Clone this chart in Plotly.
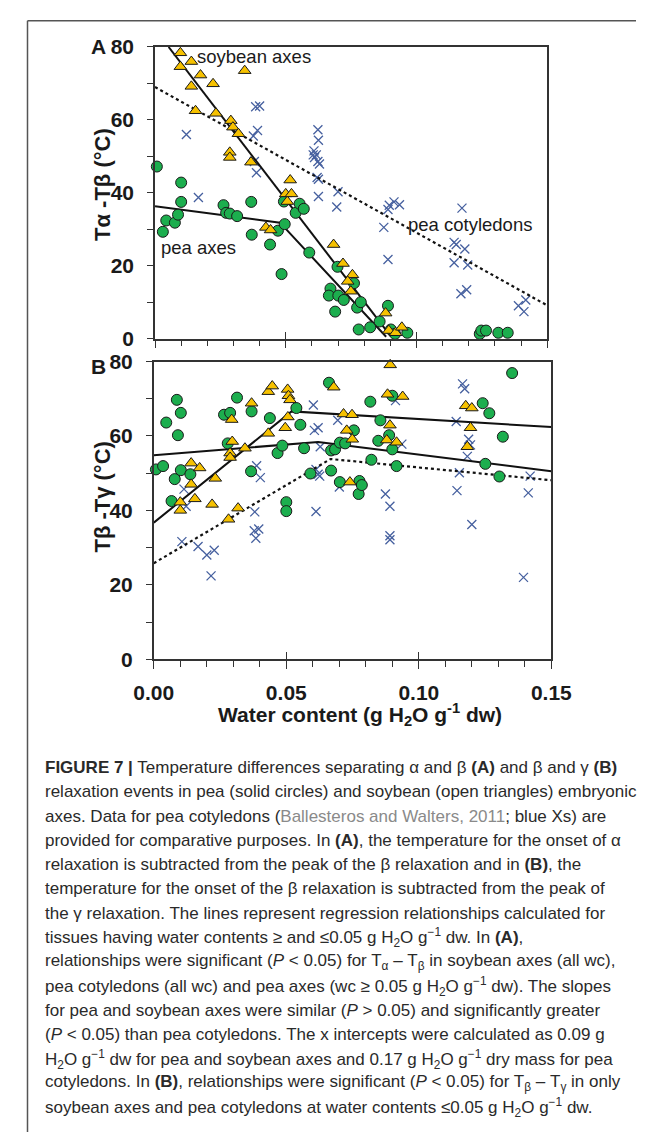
import plotly.graph_objects as go

W, H = 657, 1143

# ---------------- Panel A : T_alpha - T_beta ----------------
a_pea_x = [0.0007, 0.0030, 0.0043, 0.0076, 0.0088, 0.0100, 0.0100, 0.0262, 0.0272, 0.0286, 0.0314,
           0.0368, 0.0370, 0.0440, 0.0470, 0.0484, 0.0496, 0.0493, 0.0538, 0.0553, 0.0569, 0.0590,
           0.0671, 0.0665, 0.0701, 0.0722, 0.0689, 0.0698, 0.0761, 0.0773, 0.0779, 0.0787, 0.0823,
           0.0859, 0.0891, 0.0902, 0.0918, 0.0965, 0.1242, 0.1248, 0.1266, 0.1313, 0.1349]
a_pea_y = [47.2, 29.3, 32.4, 31.8, 34.0, 42.8, 37.5, 36.6, 34.5, 34.3, 33.6,
           37.5, 28.5, 25.8, 29.6, 17.7, 31.4, 37.6, 34.5, 37.0, 35.6, 23.6,
           13.7, 11.8, 11.8, 10.6, 7.4, 19.7, 15.2, 8.5, 2.5, 10.0, 3.1,
           4.7, 9.0, 2.5, 1.3, 1.6, 1.3, 2.2, 2.2, 1.6, 1.6]

a_soy_x = [0.0097, 0.0097, 0.0139, 0.0139, 0.0174, 0.0155, 0.0222, 0.0233, 0.0343, 0.0290, 0.0298,
           0.0319, 0.0286, 0.0286, 0.0367, 0.0500, 0.0506, 0.0517, 0.0522, 0.0424, 0.0442, 0.0683,
           0.0719, 0.0755, 0.0737, 0.0749, 0.0882, 0.0894, 0.0920, 0.0944]
a_soy_y = [78.4, 74.6, 76.0, 69.2, 72.3, 62.5, 69.9, 61.8, 73.5, 59.8, 58.0,
           56.2, 51.1, 49.7, 48.4, 39.7, 37.6, 43.5, 39.7, 30.5, 29.8, 25.8,
           20.6, 17.5, 15.7, 13.0, 7.0, 2.2, 1.6, 3.1]

a_cot_x = [0.0120, 0.0166, 0.0385, 0.0400, 0.0392, 0.0376, 0.0380, 0.0388, 0.0623, 0.0625, 0.0608,
           0.0605, 0.0617, 0.0623, 0.0629, 0.0620, 0.0625, 0.0625, 0.0700, 0.0695, 0.0610, 0.0875,
           0.0891, 0.0891, 0.0896, 0.0914, 0.0935, 0.1174, 0.1144, 0.1152, 0.1185, 0.1144, 0.1196,
           0.1170, 0.1192, 0.1390, 0.1418, 0.1411]
a_cot_y = [56.0, 38.7, 63.6, 63.8, 57.1, 55.6, 48.6, 45.5, 57.3, 54.4, 51.5,
           50.4, 50.4, 48.6, 47.9, 44.2, 43.7, 39.0, 40.3, 36.1, 49.7, 30.5,
           21.7, 35.4, 36.6, 37.5, 36.7, 35.8, 26.4, 25.8, 24.6, 20.8, 20.2,
           12.3, 13.4, 9.0, 10.6, 7.4]

# regression lines, panel A
a_soy_line_x = [0.0052, 0.0902]
a_soy_line_y = [80.0, 0.6]
a_pea_line_x = [0.0, 0.0478, 0.0884]
a_pea_line_y = [36.3, 31.8, 0.5]
a_cot_line_x = [0.0, 0.15]
a_cot_line_y = [69.0, 9.1]

# ---------------- Panel B : T_beta - T_gamma ----------------
b_pea_x = [0.0008, 0.0035, 0.0047, 0.0087, 0.0102, 0.0091, 0.0067, 0.0079, 0.0102, 0.0138, 0.0265,
           0.0288, 0.0279, 0.0314, 0.0369, 0.0367, 0.0438, 0.0467, 0.0485, 0.0500, 0.0500, 0.0538,
           0.0553, 0.0567, 0.0661, 0.0591, 0.0669, 0.0684, 0.0669, 0.0702, 0.0722, 0.0702, 0.0755,
           0.0773, 0.0776, 0.0785, 0.0817, 0.0821, 0.0847, 0.0855, 0.0888, 0.0900, 0.0900, 0.0916,
           0.1241, 0.1266, 0.1251, 0.1304, 0.1317, 0.1352]
b_pea_y = [51.0, 51.9, 63.6, 69.7, 66.2, 60.2, 42.5, 48.4, 50.8, 49.7, 65.7,
           66.2, 58.0, 70.3, 66.6, 50.5, 64.8, 55.4, 57.4, 42.2, 39.8, 67.5,
           63.0, 56.7, 74.3, 49.9, 56.1, 56.4, 50.7, 58.2, 58.0, 47.6, 61.5,
           44.4, 47.9, 46.8, 69.2, 53.6, 58.7, 64.2, 60.2, 70.8, 56.4, 51.9,
           68.8, 66.1, 52.5, 49.1, 59.8, 76.9]

b_soy_x = [0.0100, 0.0100, 0.0141, 0.0141, 0.0155, 0.0173, 0.0220, 0.0232, 0.0282, 0.0294, 0.0296,
           0.0288, 0.0288, 0.0318, 0.0344, 0.0369, 0.0432, 0.0432, 0.0447, 0.0496, 0.0505, 0.0508,
           0.0514, 0.0506, 0.0679, 0.0716, 0.0748, 0.0728, 0.0749, 0.0740, 0.0892, 0.0882, 0.0939,
           0.0891, 0.0879, 0.0916, 0.1177, 0.1200, 0.1195, 0.1183]
b_soy_y = [42.2, 40.0, 52.7, 47.0, 43.1, 51.4, 41.6, 48.6, 37.6, 64.4, 58.5,
           55.4, 54.2, 40.6, 56.7, 68.8, 71.9, 60.7, 73.4, 62.2, 72.5, 70.8,
           69.7, 65.1, 73.1, 65.9, 65.7, 61.5, 59.1, 47.6, 79.1, 71.2, 70.6,
           62.9, 58.9, 58.3, 68.1, 67.5, 62.2, 57.1]

b_cot_x = [0.0106, 0.0114, 0.0122, 0.0167, 0.0200, 0.0228, 0.0216, 0.0381, 0.0388, 0.0402, 0.0379,
           0.0396, 0.0385, 0.0602, 0.0606, 0.0620, 0.0612, 0.0620, 0.0626, 0.0612, 0.0628, 0.0694,
           0.0700, 0.0874, 0.0891, 0.0891, 0.0891, 0.0912, 0.0936, 0.1141, 0.1165, 0.1173, 0.1188,
           0.1195, 0.1183, 0.1153, 0.1144, 0.1200, 0.1420, 0.1413, 0.1395]
b_cot_y = [31.6, 45.7, 41.1, 30.3, 28.0, 29.3, 22.4, 39.6, 52.0, 48.8, 34.5,
           35.0, 32.5, 68.3, 61.5, 62.2, 51.0, 49.7, 49.2, 39.7, 57.1, 64.2,
           46.3, 44.4, 41.1, 33.2, 32.1, 69.5, 57.8, 63.9, 74.0, 72.7, 59.1,
           57.6, 54.5, 50.1, 45.3, 36.2, 49.2, 44.7, 22.0]

b_soy_line_x = [0.0, 0.052, 0.15]
b_soy_line_y = [36.7, 66.6, 62.4]
b_pea_line_x = [0.0, 0.062, 0.15]
b_pea_line_y = [54.8, 58.4, 50.5]
b_cot_line_x = [0.0, 0.0667, 0.15]
b_cot_line_y = [25.8, 53.8, 48.1]

# ticks
x_tick_vals = [0.0, 0.05, 0.10, 0.15]
x_tick_text = ["0.00", "0.05", "0.10", "0.15"]
x_minor_vals = [0.01, 0.02, 0.03, 0.04, 0.06, 0.07, 0.08, 0.09, 0.11, 0.12, 0.13, 0.14]
y_tick_vals = [0, 20, 40, 60, 80]
y_tick_text = ["0", "20", "40", "60", "80"]
y_minor_vals = [10, 30, 50, 70]

caption_lines = [
    "<b>FIGURE 7 |</b> Temperature differences separating α and β <b>(A)</b> and β and γ <b>(B)</b>",
    "relaxation events in pea (solid circles) and soybean (open triangles) embryonic",
    "axes. Data for pea cotyledons (<span style='color:#8a8a8a'>Ballesteros and Walters, 2011</span>; blue Xs) are",
    "provided for comparative purposes. In <b>(A)</b>, the temperature for the onset of α",
    "relaxation is subtracted from the peak of the β relaxation and in <b>(B)</b>, the",
    "temperature for the onset of the β relaxation is subtracted from the peak of",
    "the γ relaxation. The lines represent regression relationships calculated for",
    "tissues having water contents ≥ and ≤0.05 g H<sub>2</sub>O g<sup>−1</sup> dw. In <b>(A)</b>,",
    "relationships were significant (<i>P</i> &lt; 0.05) for T<sub>α</sub> – T<sub>β</sub> in soybean axes (all wc),",
    "pea cotyledons (all wc) and pea axes (wc ≥ 0.05 g H<sub>2</sub>O g<sup>−1</sup> dw). The slopes",
    "for pea and soybean axes were similar (<i>P</i> &gt; 0.05) and significantly greater",
    "(<i>P</i> &lt; 0.05) than pea cotyledons. The x intercepts were calculated as 0.09 g",
    "H<sub>2</sub>O g<sup>−1</sup> dw for pea and soybean axes and 0.17 g H<sub>2</sub>O g<sup>−1</sup> dry mass for pea",
    "cotyledons. In <b>(B)</b>, relationships were significant (<i>P</i> &lt; 0.05) for T<sub>β</sub> – T<sub>γ</sub> in only",
    "soybean axes and pea cotyledons at water contents ≤0.05 g H<sub>2</sub>O g<sup>−1</sup> dw.",
]

FONT = "Liberation Sans, Arial, sans-serif"
GREEN = "#1cae4e"
GOLD = "#f6c100"
BLUE = "#46609f"
INK = "#1a1a1a"

fig = go.Figure()


def add_panel(xa, ya, pea_x, pea_y, soy_x, soy_y, cot_x, cot_y, lines):
    fig.add_trace(go.Scatter(x=cot_x, y=cot_y, mode="markers", xaxis=xa, yaxis=ya,
                             marker=dict(symbol="x-thin", size=9, line=dict(color=BLUE, width=1.3)),
                             cliponaxis=False, showlegend=False, hoverinfo="skip"))
    for lx, ly, dash in lines:
        fig.add_trace(go.Scatter(x=lx, y=ly, mode="lines", xaxis=xa, yaxis=ya,
                                 line=dict(color="#111111", width=2.2 if dash == "dot" else 2, dash=dash),
                                 showlegend=False, hoverinfo="skip"))
    fig.add_trace(go.Scatter(x=pea_x, y=pea_y, mode="markers", xaxis=xa, yaxis=ya,
                             marker=dict(symbol="circle", size=11, color=GREEN, line=dict(color=INK, width=1)),
                             cliponaxis=False, showlegend=False, hoverinfo="skip"))
    fig.add_trace(go.Scatter(x=soy_x, y=soy_y, mode="markers", xaxis=xa, yaxis=ya,
                             marker=dict(symbol="triangle-up", size=11, color=GOLD, line=dict(color=INK, width=1)),
                             cliponaxis=False, showlegend=False, hoverinfo="skip"))


add_panel("x", "y", a_pea_x, a_pea_y, a_soy_x, a_soy_y, a_cot_x, a_cot_y,
          [(a_cot_line_x, a_cot_line_y, "dot"), (a_soy_line_x, a_soy_line_y, "solid"),
           (a_pea_line_x, a_pea_line_y, "solid")])
add_panel("x2", "y2", b_pea_x, b_pea_y, b_soy_x, b_soy_y, b_cot_x, b_cot_y,
          [(b_cot_line_x, b_cot_line_y, "dot"), (b_soy_line_x, b_soy_line_y, "solid"),
           (b_pea_line_x, b_pea_line_y, "solid")])
# empty traces so the overlay (crossing tick) axes get drawn
fig.add_trace(go.Scatter(x=[], y=[], xaxis="x3", yaxis="y", showlegend=False))
fig.add_trace(go.Scatter(x=[], y=[], xaxis="x4", yaxis="y2", showlegend=False))

AX_COL = "#333333"
tickfont = dict(family=FONT, size=21, color=INK, weight="bold")


def xaxis(domain, anchor, labels):
    return dict(domain=domain, anchor=anchor, range=[0, 0.15], showgrid=False, zeroline=False,
                showline=True, linecolor=AX_COL, linewidth=1.6, mirror=True,
                tickmode="array", tickvals=x_tick_vals, ticktext=x_tick_text,
                ticks="outside", ticklen=8, tickwidth=1.4, tickcolor=AX_COL,
                minor=dict(tickmode="array", tickvals=x_minor_vals, ticks="outside",
                           ticklen=6, tickwidth=1.2, tickcolor=AX_COL),
                showticklabels=labels, tickfont=tickfont, ticklabelstandoff=6)


def xover(base, anchor):
    return dict(overlaying=base, anchor=anchor, range=[0, 0.15], showgrid=False, zeroline=False,
                showline=False, tickmode="array", tickvals=x_tick_vals, ticks="inside",
                ticklen=7, tickwidth=1.4, tickcolor=AX_COL, showticklabels=False, side="bottom")


def yaxis(domain, anchor):
    return dict(domain=domain, anchor=anchor, range=[0, 80], showgrid=False, zeroline=False,
                showline=True, linecolor=AX_COL, linewidth=1.6, mirror=True,
                tickmode="array", tickvals=y_tick_vals, ticktext=y_tick_text,
                ticks="outside", ticklen=6, tickwidth=1.4, tickcolor=AX_COL,
                minor=dict(tickmode="array", tickvals=y_minor_vals, ticks="outside",
                           ticklen=6, tickwidth=1.2, tickcolor=AX_COL),
                tickfont=tickfont, ticklabelstandoff=9)


A_x = [144 / W, 562.3 / W]
A_y = [1 - 333.3 / H, 1 - 35.7 / H]
B_x = [142.7 / W, 566.7 / W]
B_y = [1 - 660.5 / H, 1 - 356.7 / H]

fig.update_layout(
    width=W, height=H, margin=dict(l=0, r=0, t=0, b=0),
    paper_bgcolor="white", plot_bgcolor="white",
    font=dict(family=FONT, color=INK),
    xaxis=xaxis(A_x, "y", False), yaxis=yaxis(A_y, "x"),
    xaxis2=xaxis(B_x, "y2", True), yaxis2=yaxis(B_y, "x2"),
    xaxis3=xover("x", "y"), xaxis4=xover("x2", "y2"),
)


def label(x, y, text, size, xref="paper", yref="paper", angle=0):
    return dict(x=x, y=y, xref=xref, yref=yref, text=text, showarrow=False, textangle=angle,
                xanchor="center", yanchor="middle",
                font=dict(size=size, family=FONT, color=INK))


ann = []
# in-plot labels (panel A)
ann.append(label(0.038, 77.5, "soybean axes", 18.5, "x", "y"))
ann.append(label(0.0165, 25.0, "pea axes", 18.5, "x", "y"))
ann.append(label(0.1206, 31.3, "pea cotyledons", 18.5, "x", "y"))
# panel letters
ann.append(label(84 / W, 1 - 35.7 / H, "<b>A</b>", 21))
ann.append(label(84 / W, 1 - 361.5 / H, "<b>B</b>", 21))
# y titles
ann.append(label(88 / W, 1 - 176 / H, "<b>Tα -Tβ (°C)</b>", 22, angle=-90))
ann.append(label(88 / W, 1 - 495 / H, "<b>Tβ -Tγ (°C)</b>", 22, angle=-90))
# x title
ann.append(label(363 / W, 1 - 717 / H, "<b>Water content (g H<sub>2</sub>O g<sup>-1</sup> dw)</b>", 21))
# caption
for i, line in enumerate(caption_lines):
    ann.append(dict(x=25 / W, y=1 - (771 + 24.8 * i) / H, xref="paper", yref="paper",
                    xanchor="left", yanchor="middle", text=line, showarrow=False, align="left",
                    font=dict(size=17, family=FONT, color="#2a2a2a")))
fig.update_layout(annotations=ann)

# outer frame (top and left rules)
fig.add_shape(type="line", xref="paper", yref="paper", x0=8 / W, x1=1.0, y0=1 - 9 / H, y1=1 - 9 / H,
              line=dict(color="#555555", width=1.5))
fig.add_shape(type="line", xref="paper", yref="paper", x0=8 / W, x1=8 / W, y0=0, y1=1 - 9 / H,
              line=dict(color="#555555", width=1.5))

fig.write_html("out.html", post_script="document.body.style.margin='0';")
